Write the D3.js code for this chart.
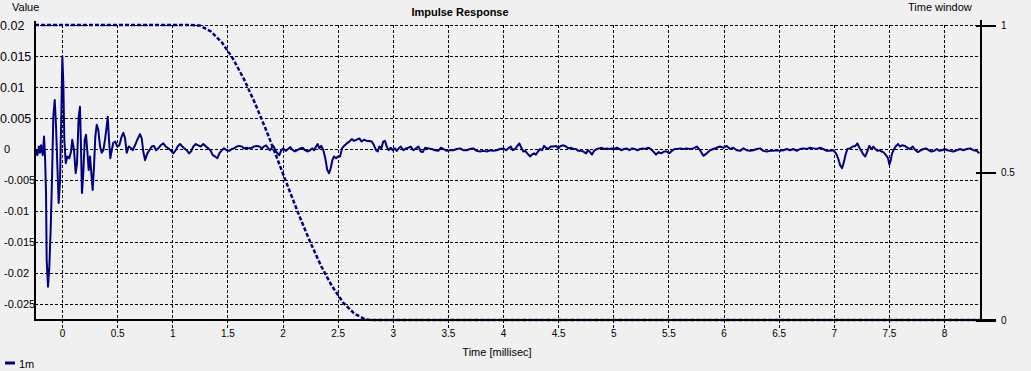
<!DOCTYPE html>
<meta charset="utf-8">
<style>
body { margin: 0; background: #f0f0f0; }
svg { font: 11px "Liberation Sans", Arial, sans-serif; display: block; }
.grid line { stroke: #000; stroke-dasharray: 3,2; shape-rendering: crispEdges; }
.grid path { display: none; }
.rax path { display: none; }
.rax line { stroke: #000; stroke-width: 2; shape-rendering: crispEdges; }
.frame { stroke: #000; stroke-width: 2; shape-rendering: crispEdges; }
.ir { fill: none; stroke: #000080; stroke-width: 2; stroke-linejoin: round; }
.win { fill: none; stroke: #000080; stroke-width: 2.5; stroke-dasharray: 4,2; }
</style>
<body>
<script src="https://cdnjs.cloudflare.com/ajax/libs/d3/7.8.5/d3.min.js"></script>
<script>

var xTicks = [0, 0.5, 1, 1.5, 2, 2.5, 3, 3.5, 4, 4.5, 5, 5.5, 6, 6.5, 7, 7.5, 8];
var yTicks = [0.02, 0.015, 0.01, 0.005, 0, -0.005, -0.01, -0.015, -0.02, -0.025];
var winTicks = [0, 0.5, 1];

// impulse response, [time ms, value]
var impulse = [
  [-0.236,-0.0002],[-0.224,-0.001],[-0.209,0.0004],[-0.200,-0.0006],[-0.190,0.0006],[-0.175,-0.001],
  [-0.163,0.002],[-0.154,-0.0012],[-0.145,-0.0071],[-0.139,-0.0179],[-0.127,-0.0222],[-0.115,-0.019],
  [-0.102,-0.0125],[-0.091,-0.005],[-0.079,0.0052],[-0.066,0.0079],[-0.054,0.0036],[-0.043,-0.0023],
  [-0.030,-0.0087],[-0.018,-0.005],[-0.006,0.0058],[0.003,0.0149],[0.012,0.0106],[0.021,0.0015],
  [0.034,-0.0023],[0.048,-0.0012],[0.066,-0.0015],[0.082,-0.0004],[0.093,0.0015],[0.109,-0.0002],
  [0.124,-0.0039],[0.136,-0.0023],[0.151,0.0052],[0.163,0.0068],[0.172,0.0004],[0.181,-0.0071],
  [0.193,-0.0039],[0.206,0.0015],[0.218,0.0023],[0.229,-0.0002],[0.242,-0.0034],[0.254,-0.0012],
  [0.266,-0.0039],[0.278,-0.0066],[0.290,-0.0029],[0.302,0.002],[0.315,0.0039],[0.329,0.0031],
  [0.345,0.0004],[0.360,-0.0006],[0.375,-0.0002],[0.390,0.0015],[0.405,0.0036],[0.415,0.0052],
  [0.426,0.0015],[0.438,-0.0015],[0.451,-0.0002],[0.465,0.001],[0.483,0.0012],[0.502,0.0004],
  [0.520,0.0006],[0.541,0.002],[0.556,0.0026],[0.571,0.0018],[0.587,-0.0006],[0.605,0.0004],
  [0.623,0.0002],[0.641,-0.0002],[0.662,0.0006],[0.683,0.0015],[0.707,0.0024],[0.723,0.0017],
  [0.737,-0.0004],[0.753,-0.0018],[0.774,-0.0007],[0.792,-0.0002],[0.814,0.0004],[0.834,0.0005],
  [0.853,-0.0002],[0.873,0.0001],[0.895,0.0006],[0.919,0.0009],[0.941,0.0004],[0.964,0.0001],
  [0.986,-0.0002],[1.010,-0.0007],[1.031,-0.0002],[1.049,0.0004],[1.070,0.0008],[1.091,0.0004],
  [1.109,0.0001],[1.131,-0.0002],[1.152,-0.0007],[1.170,-0.0004],[1.191,0.0004],[1.213,0.0008],
  [1.236,0.0006],[1.258,0.0004],[1.282,0.0008],[1.306,0.0004],[1.327,0.0001],[1.349,-0.0003],
  [1.367,-0.001],[1.388,-0.0012],[1.409,-0.0015],[1.427,-0.0007],[1.449,-0.0002],[1.469,0.0001],
  [1.494,-0.0002],[1.517,-0.0003],[1.539,0],[1.560,0.0001],[1.585,0.0004],[1.608,0.0005],
  [1.630,0.0004],[1.651,0.0001],[1.675,0.0002],[1.699,0.0001],[1.721,0.0002],[1.741,0.0004],
  [1.766,0.0005],[1.790,0.0004],[1.811,0.0001],[1.832,0.0004],[1.850,0.0006],[1.871,0.0001],
  [1.887,-0.0002],[1.902,0.0002],[1.917,0.0005],[1.935,-0.0002],[1.953,-0.0007],[1.971,-0.001],
  [1.989,-0.0002],[2.007,0.0001],[2.029,-0.0003],[2.050,0],[2.071,0.0003],[2.093,-0.0002],
  [2.113,-0.0004],[2.134,-0.0002],[2.159,0.0001],[2.183,0.0002],[2.204,-0.0002],[2.225,-0.0004],
  [2.249,-0.0002],[2.270,0.0001],[2.286,-0.0002],[2.304,0.0004],[2.319,0.0008],[2.334,0.0001],
  [2.352,0.0005],[2.370,-0.0002],[2.388,-0.0015],[2.406,-0.0034],[2.422,-0.0039],[2.437,-0.0031],
  [2.452,-0.0018],[2.467,-0.0012],[2.485,-0.0015],[2.503,-0.0012],[2.522,-0.0012],[2.540,0.0001],
  [2.558,0.0005],[2.582,0.0009],[2.606,0.0012],[2.628,0.0016],[2.649,0.0013],[2.673,0.0015],
  [2.697,0.0017],[2.718,0.0012],[2.739,0.0015],[2.764,0.0013],[2.787,0.0013],[2.809,0.0012],
  [2.830,0.0006],[2.848,-0.0002],[2.864,-0.0004],[2.878,0.0004],[2.896,0.0001],[2.914,0.0012],
  [2.930,0.0013],[2.945,0.0004],[2.963,-0.0002],[2.981,0.0002],[3.000,-0.0002],[3.020,0.0001],
  [3.036,-0.0003],[3.054,0.0001],[3.072,0.0004],[3.096,-0.0002],[3.120,0.0001],[3.141,0.0002],
  [3.163,0.0004],[3.186,-0.0002],[3.211,0.0001],[3.232,0.0004],[3.254,-0.0004],[3.272,-0.0005],
  [3.293,0.0002],[3.322,0.0001],[3.353,0],[3.383,-0.0002],[3.413,-0.0003],[3.435,0.0002],
  [3.459,0],[3.489,-0.0003],[3.519,-0.0002],[3.549,-0.0002],[3.580,0],[3.610,0.0001],
  [3.640,-0.0002],[3.671,-0.0002],[3.701,0],[3.731,0.0001],[3.761,-0.0003],[3.791,-0.0004],
  [3.821,-0.0003],[3.852,-0.0004],[3.882,-0.0002],[3.912,-0.0003],[3.943,-0.0002],[3.973,0],
  [4.003,0.0001],[4.027,-0.0002],[4.048,0.0001],[4.070,0.0004],[4.088,-0.0002],[4.109,0],
  [4.130,0.0005],[4.148,0.0009],[4.166,0.0002],[4.184,-0.0004],[4.202,-0.0003],[4.220,-0.0007],
  [4.245,-0.0012],[4.263,-0.0009],[4.281,-0.0007],[4.299,-0.0009],[4.317,-0.0004],[4.336,0],
  [4.354,-0.0002],[4.372,0.0005],[4.390,0.0002],[4.411,0],[4.433,0.0004],[4.456,0.0004],
  [4.481,0.0005],[4.502,0.0001],[4.523,0.0005],[4.547,0.0006],[4.571,0.0004],[4.592,0.0001],
  [4.614,0.0002],[4.638,0],[4.662,0],[4.683,-0.0003],[4.705,-0.0003],[4.728,-0.0004],
  [4.753,-0.0007],[4.771,-0.0002],[4.789,-0.0005],[4.807,-0.0009],[4.825,-0.0003],[4.850,0],
  [4.873,0.0001],[4.895,0.0002],[4.916,0],[4.941,0.0001],[4.964,0],[4.986,0.0001],
  [5.007,0],[5.031,0.0002],[5.055,0],[5.077,-0.0002],[5.098,0],[5.122,0.0001],
  [5.146,-0.0002],[5.170,0.0001],[5.195,0],[5.218,-0.0002],[5.243,0],[5.267,0.0001],
  [5.291,0],[5.315,0.0002],[5.340,0],[5.363,-0.0004],[5.388,-0.0009],[5.412,-0.0005],
  [5.436,-0.0007],[5.460,-0.0004],[5.485,-0.0004],[5.508,-0.0007],[5.533,-0.0003],[5.557,0],
  [5.581,0],[5.605,0.0001],[5.635,0],[5.666,0.0001],[5.696,0],[5.726,0.0001],
  [5.757,0.0004],[5.787,-0.0002],[5.817,-0.0011],[5.848,-0.0007],[5.878,-0.0002],[5.908,0],
  [5.938,0.0002],[5.968,0.0004],[5.998,0.0002],[6.029,0.0005],[6.059,0],[6.089,0.0002],
  [6.120,-0.0002],[6.150,-0.0003],[6.180,0.0001],[6.210,-0.0002],[6.240,-0.0003],[6.270,-0.0002],
  [6.301,0],[6.331,0.0001],[6.361,-0.0003],[6.391,-0.0004],[6.422,-0.0003],[6.452,-0.0003],
  [6.482,-0.0002],[6.512,-0.0003],[6.542,-0.0002],[6.573,0],[6.603,-0.0002],[6.633,0],
  [6.664,-0.0003],[6.694,0],[6.724,0.0001],[6.754,0],[6.785,0.0002],[6.815,0.0001],
  [6.845,0],[6.875,0.0002],[6.905,0],[6.936,-0.0003],[6.966,-0.0003],[6.996,-0.0002],
  [7.020,-0.0007],[7.039,-0.0015],[7.057,-0.0026],[7.075,-0.0031],[7.093,-0.002],[7.105,-0.001],
  [7.123,0],[7.147,0.0001],[7.172,0.0004],[7.196,0.0005],[7.214,0.0009],[7.232,0.0002],
  [7.250,-0.0003],[7.268,-0.0009],[7.286,-0.0012],[7.304,-0.0004],[7.322,0.0005],[7.341,0],
  [7.359,0.0004],[7.377,0],[7.395,-0.0003],[7.413,-0.0002],[7.431,-0.0004],[7.449,-0.0005],
  [7.474,-0.001],[7.492,-0.0015],[7.504,-0.0025],[7.517,-0.0018],[7.528,-0.0007],[7.547,0],
  [7.565,0.0005],[7.583,0.0008],[7.601,0.0004],[7.619,0.0006],[7.644,0.0005],[7.667,0.0002],
  [7.692,0],[7.716,0.0004],[7.740,-0.0002],[7.764,-0.0005],[7.789,-0.0002],[7.812,0],
  [7.837,0.0001],[7.861,-0.0002],[7.885,-0.0004],[7.909,-0.0003],[7.934,0],[7.958,-0.0003],
  [7.982,-0.0002],[8.006,0],[8.030,-0.0002],[8.054,-0.0003],[8.084,-0.0004],[8.115,-0.0002],
  [8.145,0],[8.175,-0.0002],[8.206,0],[8.236,0.0001],[8.266,-0.0002],[8.296,-0.0003],
  [8.320,-0.0007]
];

// time window, [time ms, gain]
var timeWindow = [
  [-0.245,1],[1.15,1],[1.25,0.998],[1.35,0.978],[1.45,0.941],[1.55,0.886],[1.65,0.817],
  [1.75,0.735],[1.85,0.645],[1.95,0.549],[2.05,0.451],[2.15,0.355],[2.25,0.265],[2.35,0.183],
  [2.45,0.114],[2.55,0.059],[2.65,0.022],[2.75,0.002],[2.8,0],[8.335,0]
];

var width = 1031, height = 371,
    plotL = 35, plotR = 981, plotT = 25, plotB = 320;

var x = d3.scaleLinear().domain([-0.245, 8.335]).range([plotL, plotR]);
var y = d3.scaleLinear().domain([-0.02758, 0.02]).range([plotB, plotT]);
var yw = d3.scaleLinear().domain([0, 1]).range([plotB, plotT]);

var svg = d3.select("body").append("svg")
    .attr("width", width)
    .attr("height", height);

// vertical grid + x labels
svg.append("g")
    .attr("class", "grid")
    .attr("transform", "translate(0," + (plotB + 8) + ")")
    .call(d3.axisBottom(x).tickValues(xTicks).tickSize(-(plotB + 8 - plotT)).tickPadding(2)
      .tickFormat(function(d) { return String(d); }));

// horizontal grid + y labels
var ya = svg.append("g")
    .attr("class", "grid")
    .attr("transform", "translate(" + plotL + ",0)")
    .call(d3.axisLeft(y).tickValues(yTicks).tickSize(-(plotR - plotL))
      .tickFormat(function(d) { return String(d); }));

ya.selectAll("text")
    .attr("text-anchor", "start")
    .attr("x", function(d) { return d > 0 ? -plotL : 4 - plotL; })
    .style("font-size", function(d) { return d > 0 ? "12.5px" : "11px"; });

var line = d3.line()
    .x(function(d) { return x(d[0]); })
    .y(function(d) { return y(d[1]); });

var wline = d3.line()
    .x(function(d) { return x(d[0]); })
    .y(function(d) { return yw(d[1]); });

svg.append("path")
    .datum(timeWindow)
    .attr("class", "win")
    .attr("d", wline);

svg.append("path")
    .datum(impulse)
    .attr("class", "ir")
    .attr("d", line);

// frame lines
svg.append("line").attr("class", "frame")
    .attr("x1", plotL).attr("x2", plotL).attr("y1", plotT - 4).attr("y2", plotB + 1);
svg.append("line").attr("class", "frame")
    .attr("x1", plotL - 1).attr("x2", plotR + 15).attr("y1", plotB).attr("y2", plotB);
svg.append("line").attr("class", "frame")
    .attr("x1", plotR).attr("x2", plotR).attr("y1", plotT - 5).attr("y2", plotB + 1);

// right axis (time window)
svg.append("g")
    .attr("class", "rax")
    .attr("transform", "translate(" + (plotR - 5) + ",0)")
    .call(d3.axisRight(yw).tickValues(winTicks).tickSize(20).tickPadding(5)
      .tickFormat(function(d) { return String(d); }));

svg.selectAll(".grid text, .rax text").attr("fill", "#000");

// titles
svg.append("text").attr("x", 12).attr("y", 11).text("Value");
svg.append("text").attr("x", 908).attr("y", 11).text("Time window");
svg.append("text").attr("x", 460).attr("y", 16)
    .attr("text-anchor", "middle")
    .style("font-weight", "bold")
    .text("Impulse Response");
svg.append("text").attr("x", 497).attr("y", 356)
    .attr("text-anchor", "middle")
    .text("Time [millisec]");

// legend
svg.append("line")
    .attr("x1", 5).attr("x2", 15).attr("y1", 363).attr("y2", 363)
    .style("stroke", "#000080").style("stroke-width", 3);
svg.append("text").attr("x", 19).attr("y", 368).text("1m");

</script>
